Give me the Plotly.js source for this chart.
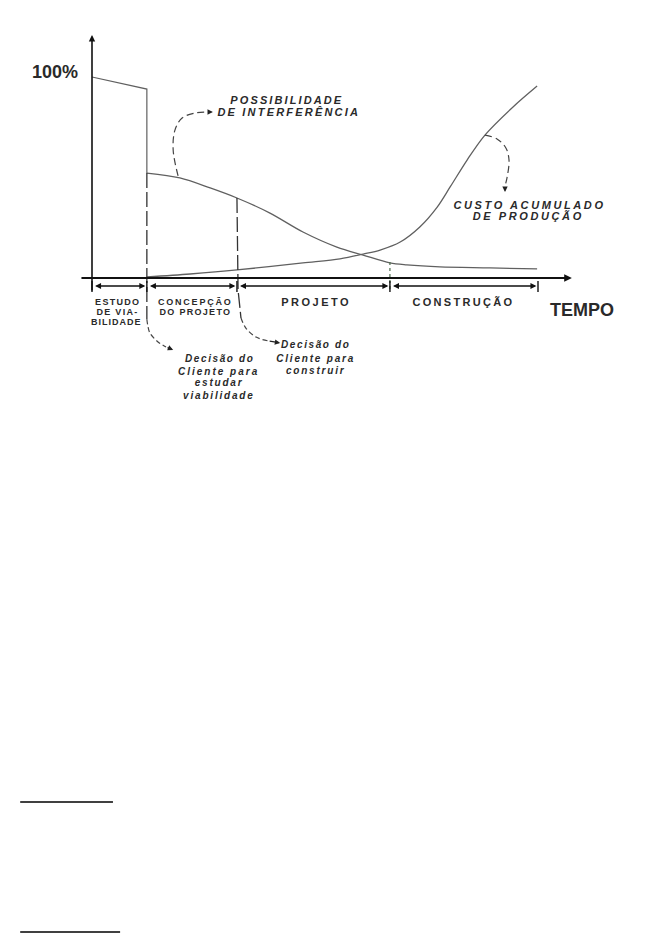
<!DOCTYPE html>
<html>
<head>
<meta charset="utf-8">
<script src="https://cdn.plot.ly/plotly-3.0.1.min.js"></script>
<style>
html,body{margin:0;padding:0;background:#fff;}
#chart{width:661px;height:933px;}
</style>
</head>
<body>
<div id="chart"></div>
<script>
// ---------- data (time units 0..100 = start..end of construction; value in %) ----------
const phaseBounds = [0, 12.3, 32.5, 66.8, 100];

const interferenceStepX = [0, 12.3, 12.3];
const interferenceStepY = [100, 94, 52.2];
const interferenceX = [12.3, 19.7, 26.5, 32.5, 39.9, 47.3, 54.9, 60.8, 66.8, 70.6, 78.0, 89.2, 99.8];
const interferenceY = [52.2, 49.8, 44.8, 39.8, 32.3, 22.9, 15.4, 11.4, 7.5, 6.5, 5.5, 5.0, 4.5];

const costX = [12.3, 22.0, 32.5, 47.3, 55.6, 60.8, 64.6, 69.1, 73.5, 77.4, 80.3, 84.1, 88.1, 94.4, 99.8];
const costY = [0.5, 2.0, 4.0, 7.5, 9.5, 11.9, 13.9, 17.9, 25.4, 35.3, 45.3, 58.7, 71.1, 85.1, 95.5];

// leader (callout) lines
const interfLeaderX = [19.3, 18.2, 18.6, 20.2, 23.1, 25.8];
const interfLeaderY = [50.8, 63.7, 73.6, 79.6, 82.1, 82.6];
const interfArrowHead = [27.1, 82.6];

const costLeaderX = [88.1, 90.8, 92.8, 93.5, 93.05, 92.6];
const costLeaderY = [71.1, 69.2, 64.7, 58.7, 49.8, 45.8];
const costArrowHead = [92.6, 42.8];

const decision1LineX = [12.3, 12.3];
const decision1LineY = [52.2, -20.5];
const decision1CurveX = [12.3, 12.5, 13.0, 14.8, 16.6];
const decision1CurveY = [-20.5, -23.5, -27.4, -31.8, -34.3];
const decision1ArrowHead = [18.2, -35.8];

const decision2LineX = [32.5, 32.75, 33.4];
const decision2LineY = [39.8, -6.0, -19.9];
const decision2CurveX = [33.4, 34.5, 36.8, 39.5];
const decision2CurveY = [-19.9, -24.9, -29.4, -31.3];
const decision2ArrowHead = [42.2, -32.3];

const projetoTickX = [66.8, 66.8];
const projetoTickY = [8.0, -7.0];

// axes extents
const xAxisFrom = [-2.7, 0], xAxisTo = [107.6, 0];
const yAxisFrom = [0, -7], yAxisTo = [0, 120.9];
const phaseArrowY = -4;
const phaseTickY = [-1.5, -7];

// footnote rules
const footnoteRuleY = [-260.7, -325.4];
const footnoteRuleX0 = [-16.1, -16.1];
const footnoteRuleX1 = [4.7, 6.3];

// text labels
const labels = [
  {t: '100%',             x: -8.3,  y: 102.5, size: 18, bold: true, italic: false, sp: 0},
  {t: 'POSSIBILIDADE',    x: 43.7,  y: 88.6,  size: 11, bold: true, italic: true,  sp: 2.1},
  {t: 'DE INTERFERÊNCIA', x: 44.2,  y: 82.6,  size: 11, bold: true, italic: true,  sp: 2.2},
  {t: 'CUSTO ACUMULADO',  x: 98.0,  y: 36.3,  size: 11, bold: true, italic: true,  sp: 2.6},
  {t: 'DE PRODUÇÃO',      x: 97.8,  y: 30.9,  size: 11, bold: true, italic: true,  sp: 2.6},
  {t: 'TEMPO',            x: 109.9, y: -15.9, size: 18, bold: true, italic: false, sp: 0},
  {t: 'ESTUDO',           x: 5.8,   y: -11.9, size: 9,  bold: true, italic: false, sp: 1.3},
  {t: 'DE VIA-',          x: 5.8,   y: -16.9, size: 9,  bold: true, italic: false, sp: 1.3},
  {t: 'BILIDADE',         x: 5.6,   y: -21.9, size: 9,  bold: true, italic: false, sp: 1.0},
  {t: 'CONCEPÇÃO',        x: 23.1,  y: -11.9, size: 9,  bold: true, italic: false, sp: 1.8},
  {t: 'DO PROJETO',       x: 23.1,  y: -16.9, size: 9,  bold: true, italic: false, sp: 1.3},
  {t: 'PROJETO',          x: 50.4,  y: -11.9, size: 11, bold: true, italic: false, sp: 2.5},
  {t: 'CONSTRUÇÃO',       x: 83.4,  y: -11.9, size: 11, bold: true, italic: false, sp: 2.3},
  {t: 'Decisão do',       x: 28.5,  y: -39.8, size: 10, bold: true, italic: true, sp: 1.6},
  {t: 'Cliente para',     x: 28.5,  y: -46.3, size: 10, bold: true, italic: true, sp: 2.0},
  {t: 'estudar',          x: 28.5,  y: -52.2, size: 10, bold: true, italic: true, sp: 1.8},
  {t: 'viabilidade',      x: 28.5,  y: -58.7, size: 10, bold: true, italic: true, sp: 1.8},
  {t: 'Decisão do',       x: 50.2,  y: -33.3, size: 10, bold: true, italic: true, sp: 1.6},
  {t: 'Cliente para',     x: 50.2,  y: -39.8, size: 10, bold: true, italic: true, sp: 1.8},
  {t: 'construir',        x: 50.2,  y: -45.8, size: 10, bold: true, italic: true, sp: 1.8}
];

// ---------- build ----------
const curveColor = '#606060';
const textColor = '#2a2a2a';

function lineTrace(x, y, opts) {
  return Object.assign({
    type: 'scatter', mode: 'lines', x: x, y: y, hoverinfo: 'skip', showlegend: false,
    line: {color: curveColor, width: 1.2}
  }, opts || {});
}

const traces = [
  lineTrace(interferenceStepX, interferenceStepY, {line: {color: curveColor, width: 1.2}}),
  lineTrace(interferenceX, interferenceY, {line: {color: curveColor, width: 1.3, shape: 'spline', smoothing: 0.9}}),
  lineTrace(costX, costY, {line: {color: curveColor, width: 1.3, shape: 'spline', smoothing: 0.9}}),
  lineTrace(interfLeaderX, interfLeaderY, {line: {color: '#444', width: 1.2, shape: 'spline', dash: '7px,4px'}}),
  lineTrace(costLeaderX, costLeaderY, {line: {color: '#444', width: 1.2, shape: 'spline', dash: '7px,4px'}}),
  lineTrace(decision1LineX, decision1LineY, {line: {color: '#333', width: 1.3, dash: '15px,4px'}}),
  lineTrace(decision1CurveX, decision1CurveY, {line: {color: '#444', width: 1.2, shape: 'spline', dash: '5px,3px'}}),
  lineTrace(decision2LineX, decision2LineY, {line: {color: '#333', width: 1.3, dash: '15px,4px'}}),
  lineTrace(decision2CurveX, decision2CurveY, {line: {color: '#444', width: 1.2, shape: 'spline', dash: '5px,3px'}}),
  lineTrace(projetoTickX, projetoTickY, {line: {color: '#4a6a4a', width: 1.2, dash: 'dot'}})
];

const annotations = [];
function arrow(head, tail, o) {
  annotations.push(Object.assign({
    x: head[0], y: head[1], ax: tail[0], ay: tail[1], xref: 'x', yref: 'y', axref: 'x', ayref: 'y',
    text: '', showarrow: true, arrowhead: 2, arrowsize: 1, arrowwidth: 1.2, arrowcolor: '#222', standoff: 0
  }, o || {}));
}

// axes
arrow(yAxisTo, yAxisFrom, {arrowwidth: 1.6, arrowsize: 0.8, arrowcolor: '#111'});
arrow(xAxisTo, xAxisFrom, {arrowwidth: 2.2, arrowsize: 0.7, arrowcolor: '#111'});

// phase double arrows
for (let i = 0; i < phaseBounds.length - 1; i++) {
  arrow([phaseBounds[i + 1] - 0.35, phaseArrowY], [phaseBounds[i] + 0.35, phaseArrowY],
    {arrowside: 'end+start', arrowwidth: 1.6, arrowsize: 0.75, arrowcolor: '#111'});
}

// callout arrowheads
arrow(interfArrowHead, [interfLeaderX[interfLeaderX.length - 1], interfLeaderY[interfLeaderY.length - 1]], {arrowsize: 0.9});
arrow(costArrowHead, [costLeaderX[costLeaderX.length - 1], costLeaderY[costLeaderY.length - 1]], {arrowsize: 0.9});
arrow(decision1ArrowHead, [decision1CurveX[decision1CurveX.length - 1], decision1CurveY[decision1CurveY.length - 1]], {arrowsize: 0.9});
arrow(decision2ArrowHead, [decision2CurveX[decision2CurveX.length - 1], decision2CurveY[decision2CurveY.length - 1]], {arrowsize: 0.9});

// text labels
let css = '';
labels.forEach(function (l) {
  const idx = annotations.length;
  annotations.push({
    x: l.x, y: l.y, xref: 'x', yref: 'y', text: l.t, showarrow: false,
    xanchor: 'center', yanchor: 'middle',
    font: {
      family: '"Liberation Sans", Arial, sans-serif',
      size: l.size, color: textColor,
      weight: l.bold ? 'bold' : 'normal', style: l.italic ? 'italic' : 'normal'
    }
  });
  if (l.sp) css += '.annotation[data-index="' + idx + '"] text{letter-spacing:' + l.sp + 'px;}\n';
});
const st = document.createElement('style');
st.textContent = css;
document.head.appendChild(st);

// shapes: phase ticks + footnote rules
const shapes = [];
phaseBounds.forEach(function (b) {
  shapes.push({type: 'line', xref: 'x', yref: 'y', x0: b, x1: b, y0: phaseTickY[0], y1: phaseTickY[1],
    line: {color: '#111', width: 1.4}});
});
footnoteRuleY.forEach(function (y, i) {
  shapes.push({type: 'line', xref: 'x', yref: 'y', x0: footnoteRuleX0[i], x1: footnoteRuleX1[i], y0: y, y1: y,
    line: {color: '#000', width: 1.5}});
});

const layout = {
  width: 661, height: 933,
  margin: {l: 0, r: 0, t: 0, b: 0, pad: 0},
  paper_bgcolor: '#fff', plot_bgcolor: '#fff',
  showlegend: false,
  xaxis: {range: [-20.628, 127.578], visible: false, fixedrange: true},
  yaxis: {range: [-325.87, 138.31], visible: false, fixedrange: true},
  annotations: annotations,
  shapes: shapes
};

Plotly.newPlot('chart', traces, layout, {staticPlot: true, displayModeBar: false});
</script>
</body>
</html>
